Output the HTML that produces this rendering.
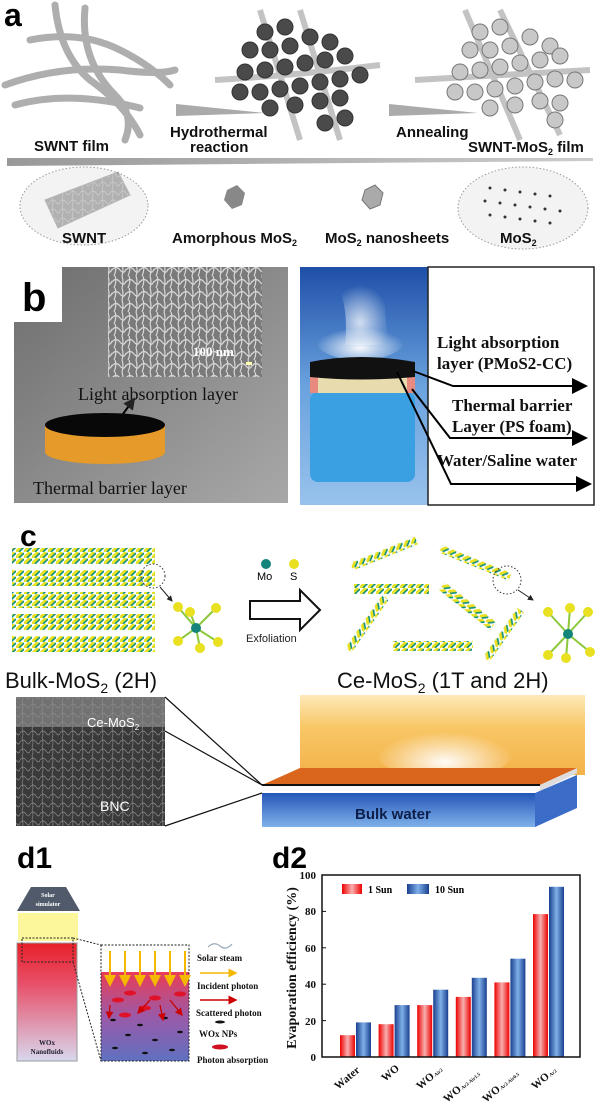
<!DOCTYPE html>
<html><head><meta charset="utf-8"><style>
html,body{margin:0;padding:0;background:#fff}
svg{display:block}
</style></head><body>
<svg width="600" height="1103" viewBox="0 0 600 1103" xmlns="http://www.w3.org/2000/svg">
<defs>
<linearGradient id="bar" x1="0" x2="1"><stop offset="0" stop-color="#e00"/><stop offset="0.5" stop-color="#f7b0b0"/><stop offset="1" stop-color="#e00"/></linearGradient>
<linearGradient id="bbar" x1="0" x2="1"><stop offset="0" stop-color="#1a3f8f"/><stop offset="0.5" stop-color="#7fb0e8"/><stop offset="1" stop-color="#1a3f8f"/></linearGradient>
<linearGradient id="tube" x1="0" y1="0" x2="0" y2="1"><stop offset="0" stop-color="#e8202a"/><stop offset="0.35" stop-color="#e8506a"/><stop offset="1" stop-color="#d8d8ee"/></linearGradient>
<linearGradient id="inset" x1="0" y1="0" x2="0" y2="1"><stop offset="0" stop-color="#ea3c55"/><stop offset="0.5" stop-color="#9a5aa8"/><stop offset="1" stop-color="#6070c0"/></linearGradient>
<linearGradient id="glow" x1="0" y1="0" x2="0" y2="1"><stop offset="0" stop-color="#fde9b8"/><stop offset="0.4" stop-color="#f8c766"/><stop offset="1" stop-color="#f4b24a"/></linearGradient>
<linearGradient id="water" x1="0" y1="0" x2="0" y2="1"><stop offset="0" stop-color="#2456b8"/><stop offset="1" stop-color="#7fb2ea"/></linearGradient>
<linearGradient id="jarbg" x1="0" y1="0" x2="0" y2="1"><stop offset="0" stop-color="#1e4fa8"/><stop offset="0.5" stop-color="#6aa2de"/><stop offset="1" stop-color="#98c2ec"/></linearGradient>
<linearGradient id="gray" x1="0" y1="0" x2="1" y2="1"><stop offset="0" stop-color="#6e6e6e"/><stop offset="1" stop-color="#a8a8a8"/></linearGradient>
<linearGradient id="hbar" x1="0" x2="1"><stop offset="0" stop-color="#999"/><stop offset="1" stop-color="#ccc"/></linearGradient>
<radialGradient id="steam" cx="0.5" cy="0.7" r="0.5"><stop offset="0" stop-color="#fff" stop-opacity="0.95"/><stop offset="1" stop-color="#fff" stop-opacity="0"/></radialGradient>
<pattern id="sem" width="14" height="12" patternUnits="userSpaceOnUse"><rect width="14" height="12" fill="#7a7a7a"/><path d="M0 6 Q4 1 8 6 T14 5 M3 0 Q5 5 2 12 M10 0 Q12 6 10 12" stroke="#d8d8d8" stroke-width="1.2" fill="none"/></pattern>
<pattern id="sem2" width="10" height="9" patternUnits="userSpaceOnUse"><rect width="10" height="9" fill="#3a3a3a"/><path d="M0 4 Q3 0 6 4 T10 4 M2 0 Q4 5 2 9" stroke="#8a8a8a" stroke-width="0.7" fill="none"/></pattern>
<pattern id="mos" width="8" height="6" patternUnits="userSpaceOnUse"><rect width="8" height="6" fill="none"/><path d="M0 6 L6 0" stroke="#e8e020" stroke-width="3"/><path d="M3 6 L8 1" stroke="#12907a" stroke-width="1.6"/></pattern>
<marker id="ah" markerWidth="8" markerHeight="8" refX="7" refY="4" orient="auto"><path d="M0 0 L8 4 L0 8 Z" fill="#000"/></marker>
<marker id="ahs" markerWidth="6" markerHeight="6" refX="5" refY="3" orient="auto"><path d="M0 0 L6 3 L0 6 Z" fill="#222"/></marker>
<marker id="ahy" markerWidth="6" markerHeight="6" refX="5" refY="3" orient="auto"><path d="M0 0 L6 3 L0 6 Z" fill="#f5b800"/></marker>
<marker id="ahr" markerWidth="6" markerHeight="6" refX="5" refY="3" orient="auto"><path d="M0 0 L6 3 L0 6 Z" fill="#c00"/></marker>
</defs>

<!-- ===== Panel a ===== -->
<g fill="none" stroke="#9a9a9a" stroke-width="7" stroke-linecap="round" opacity="0.8">
<path d="M55 5 Q60 55 90 80 Q125 105 140 135"/>
<path d="M85 8 Q80 60 115 95 Q135 115 125 140"/>
<path d="M5 85 Q60 65 120 70 Q160 75 175 70"/>
<path d="M15 105 Q70 90 140 108"/>
<path d="M30 40 Q80 30 120 50 Q150 65 170 85"/>
</g>
<g fill="none" stroke="#aaa" stroke-width="6" opacity="0.7">
<path d="M215 80 Q300 75 380 65"/><path d="M260 10 L300 140"/><path d="M300 10 L340 140"/>
<path d="M415 80 Q500 75 590 70"/><path d="M465 10 L520 140"/><path d="M500 10 L560 135"/>
</g>
<g fill="#4a4a4a" stroke="#333" stroke-width="1">
<circle cx="265" cy="32" r="8"/><circle cx="285" cy="27" r="8"/><circle cx="250" cy="50" r="8"/><circle cx="270" cy="50" r="8"/><circle cx="290" cy="46" r="8"/><circle cx="310" cy="37" r="8"/><circle cx="330" cy="42" r="8"/>
<circle cx="245" cy="72" r="8"/><circle cx="265" cy="70" r="8"/><circle cx="285" cy="67" r="8"/><circle cx="305" cy="63" r="8"/><circle cx="325" cy="60" r="8"/><circle cx="345" cy="56" r="8"/><circle cx="360" cy="75" r="8"/>
<circle cx="240" cy="92" r="8"/><circle cx="260" cy="92" r="8"/><circle cx="280" cy="89" r="8"/><circle cx="300" cy="86" r="8"/><circle cx="320" cy="82" r="8"/><circle cx="340" cy="79" r="8"/>
<circle cx="270" cy="108" r="8"/><circle cx="295" cy="105" r="8"/><circle cx="320" cy="101" r="8"/><circle cx="340" cy="98" r="8"/><circle cx="345" cy="118" r="8"/><circle cx="325" cy="123" r="8"/>
</g>
<g fill="#c8c8c8" stroke="#777" stroke-width="1">
<circle cx="480" cy="32" r="8"/><circle cx="500" cy="27" r="8"/><circle cx="470" cy="50" r="8"/><circle cx="490" cy="50" r="8"/><circle cx="510" cy="46" r="8"/><circle cx="530" cy="37" r="8"/><circle cx="550" cy="46" r="8"/>
<circle cx="460" cy="72" r="8"/><circle cx="480" cy="70" r="8"/><circle cx="500" cy="67" r="8"/><circle cx="520" cy="63" r="8"/><circle cx="540" cy="60" r="8"/><circle cx="560" cy="56" r="8"/><circle cx="575" cy="80" r="8"/>
<circle cx="455" cy="92" r="8"/><circle cx="475" cy="92" r="8"/><circle cx="495" cy="89" r="8"/><circle cx="515" cy="86" r="8"/><circle cx="535" cy="82" r="8"/><circle cx="555" cy="79" r="8"/>
<circle cx="490" cy="108" r="8"/><circle cx="515" cy="105" r="8"/><circle cx="540" cy="101" r="8"/><circle cx="560" cy="103" r="8"/><circle cx="555" cy="120" r="8"/>
</g>
<text x="4" y="26" font-family="Liberation Sans" font-weight="bold" font-size="32">a</text>
<polygon points="176,104 265,113 176,116" fill="#aaa"/>
<polygon points="389,104 478,113 389,116" fill="#aaa"/>
<g font-family="Liberation Sans" font-weight="bold" font-size="15" fill="#111">
<text x="34" y="151">SWNT film</text>
<text x="170" y="137">Hydrothermal</text><text x="190" y="152">reaction</text>
<text x="396" y="137">Annealing</text>
<text x="468" y="152">SWNT-MoS<tspan font-size="9" dy="3">2</tspan><tspan dy="-3"> film</tspan></text>
</g>
<polygon points="7,158 593,158 593,161 7,166" fill="url(#hbar)"/>
<ellipse cx="84" cy="206" rx="64" ry="39" fill="#f3f3f3" stroke="#999" stroke-dasharray="1.5,2"/>
<ellipse cx="523" cy="208" rx="65" ry="41" fill="#f3f3f3" stroke="#999" stroke-dasharray="1.5,2"/>
<path d="M45 200 L118 172 L130 195 L58 228 Z" fill="url(#sem2)" opacity="0.35" stroke="#444"/>
<g fill="#333"><circle cx="490" cy="188" r="1.5"/><circle cx="505" cy="190" r="1.5"/><circle cx="520" cy="192" r="1.5"/><circle cx="535" cy="194" r="1.5"/><circle cx="550" cy="196" r="1.5"/>
<circle cx="485" cy="201" r="1.5"/><circle cx="500" cy="203" r="1.5"/><circle cx="515" cy="205" r="1.5"/><circle cx="530" cy="207" r="1.5"/><circle cx="545" cy="209" r="1.5"/><circle cx="560" cy="211" r="1.5"/>
<circle cx="490" cy="215" r="1.5"/><circle cx="505" cy="217" r="1.5"/><circle cx="520" cy="219" r="1.5"/><circle cx="535" cy="221" r="1.5"/><circle cx="550" cy="223" r="1.5"/></g>
<polygon points="227,190 237,185 245,193 242,205 232,209 224,200" fill="#888"/>
<polygon points="365,190 375,185 383,193 380,205 370,209 362,200" fill="#aaa" stroke="#777"/>
<g font-family="Liberation Sans" font-weight="bold" font-size="15" fill="#111">
<text x="62" y="243">SWNT</text>
<text x="172" y="243">Amorphous MoS<tspan font-size="9" dy="3">2</tspan></text>
<text x="325" y="243">MoS<tspan font-size="9" dy="3">2</tspan><tspan dy="-3"> nanosheets</tspan></text>
<text x="500" y="243">MoS<tspan font-size="9" dy="3">2</tspan></text>
</g>

<!-- ===== Panel b ===== -->
<rect x="14" y="267" width="274" height="236" fill="url(#gray)"/>
<rect x="14" y="267" width="48" height="55" fill="#fff"/>
<text x="22" y="311" font-family="Liberation Sans" font-weight="bold" font-size="40">b</text>
<rect x="108" y="267" width="154" height="110" fill="url(#sem)"/>
<text x="193" y="356" font-family="Liberation Serif" font-weight="bold" font-size="13" fill="#fff">100 nm</text>
<rect x="246" y="362" width="6" height="3" fill="#ffffb0"/>
<text x="78" y="400" font-family="Liberation Serif" font-size="18" fill="#111">Light  absorption layer</text>
<line x1="120" y1="418" x2="134" y2="399" stroke="#000" stroke-width="2" marker-end="url(#ahs)"/>
<path d="M45 425 L45 452 A60 12 0 0 0 165 452 L165 425 Z" fill="#e59a2a"/>
<ellipse cx="105" cy="425" rx="60" ry="12" fill="#080808"/>
<text x="33" y="494" font-family="Liberation Serif" font-size="18" fill="#111">Thermal barrier layer</text>

<rect x="300" y="267" width="128" height="238" fill="url(#jarbg)"/>
<path d="M330 270 Q350 300 345 345 L390 345 Q380 300 390 270 Z" fill="url(#steam)" opacity="0.8"/>
<ellipse cx="360" cy="340" rx="45" ry="20" fill="url(#steam)"/>
<rect x="310" y="392" width="105" height="90" rx="8" fill="#3aa0e2"/>
<rect x="310" y="375" width="105" height="18" fill="#e8dcae"/>
<rect x="310" y="375" width="8" height="18" fill="#e88a80"/><rect x="407" y="375" width="8" height="18" fill="#e88a80"/>
<path d="M310 362 Q360 352 415 362 L415 377 Q360 382 310 377 Z" fill="#111"/>
<rect x="428" y="267" width="166" height="238" fill="#fff" stroke="#222" stroke-width="1.5"/>
<g font-family="Liberation Serif" font-weight="bold" font-size="17" fill="#111">
<text x="437" y="348">Light absorption</text>
<text x="437" y="369">layer (PMoS2-CC)</text>
<text x="452" y="411">Thermal barrier</text>
<text x="452" y="432">Layer (PS foam)</text>
<text x="437" y="466">Water/Saline water</text>
</g>
<g stroke="#000" stroke-width="2" fill="none">
<polyline points="413,371 453,386 586,386" marker-end="url(#ah)"/>
<polyline points="412,389 450,438 586,438" marker-end="url(#ah)"/>
<polyline points="397,372 451,484 590,484" marker-end="url(#ah)"/>
</g>

<!-- ===== Panel c ===== -->
<text x="20" y="546" font-family="Liberation Sans" font-weight="bold" font-size="30">c</text>
<g>
<rect x="12" y="548" width="143" height="16" fill="url(#mos)"/>
<rect x="12" y="570" width="143" height="16" fill="url(#mos)"/>
<rect x="12" y="592" width="143" height="16" fill="url(#mos)"/>
<rect x="12" y="614" width="143" height="16" fill="url(#mos)"/>
<rect x="12" y="636" width="143" height="16" fill="url(#mos)"/>
</g>
<circle cx="153" cy="576" r="12" fill="none" stroke="#333" stroke-dasharray="1.5,2"/>
<line x1="160" y1="587" x2="172" y2="601" stroke="#222" marker-end="url(#ahs)"/>
<g stroke="#8cc83a" stroke-width="2"><line x1="196" y1="628" x2="178" y2="607"/><line x1="196" y1="628" x2="216" y2="608"/><line x1="196" y1="628" x2="190" y2="612"/><line x1="196" y1="628" x2="178" y2="641"/><line x1="196" y1="628" x2="218" y2="642"/><line x1="196" y1="628" x2="200" y2="648"/></g>
<g fill="#e8e020"><circle cx="178" cy="607" r="5"/><circle cx="216" cy="608" r="5"/><circle cx="190" cy="612" r="5"/><circle cx="178" cy="641" r="5"/><circle cx="218" cy="642" r="5"/><circle cx="200" cy="648" r="5"/></g>
<circle cx="196" cy="628" r="5" fill="#13857a"/>
<circle cx="266" cy="564" r="5" fill="#13857a"/><circle cx="294" cy="564" r="5" fill="#e8e020"/>
<text x="257" y="580" font-family="Liberation Sans" font-size="11">Mo</text><text x="290" y="580" font-family="Liberation Sans" font-size="11">S</text>
<path d="M250 601 L300 601 L300 590 L320 610 L300 630 L300 619 L250 619 Z" fill="#fff" stroke="#111" stroke-width="2"/>
<text x="246" y="642" font-family="Liberation Sans" font-size="11" fill="#222">Exfoliation</text>
<g>
<rect x="0" y="0" width="70" height="8" fill="url(#mos)" transform="translate(350,563) rotate(-22)"/>
<rect x="0" y="0" width="75" height="8" fill="url(#mos)" transform="translate(442,545) rotate(22)"/>
<rect x="354" y="584" width="75" height="10" fill="url(#mos)"/>
<rect x="0" y="0" width="65" height="10" fill="url(#mos)" transform="translate(445,582) rotate(38)"/>
<rect x="0" y="0" width="65" height="8" fill="url(#mos)" transform="translate(345,648) rotate(-55)"/>
<rect x="393" y="641" width="80" height="10" fill="url(#mos)"/>
<rect x="0" y="0" width="60" height="8" fill="url(#mos)" transform="translate(483,657) rotate(-55)"/>
</g>
<circle cx="507" cy="580" r="14" fill="none" stroke="#333" stroke-dasharray="1.5,2"/>
<line x1="518" y1="590" x2="533" y2="600" stroke="#222" marker-end="url(#ahs)"/>
<g stroke="#8cc83a" stroke-width="2"><line x1="568" y1="634" x2="548" y2="612"/><line x1="568" y1="634" x2="570" y2="608"/><line x1="568" y1="634" x2="588" y2="612"/><line x1="568" y1="634" x2="548" y2="655"/><line x1="568" y1="634" x2="566" y2="658"/><line x1="568" y1="634" x2="590" y2="652"/></g>
<g fill="#e8e020"><circle cx="548" cy="612" r="5"/><circle cx="570" cy="608" r="5"/><circle cx="588" cy="612" r="5"/><circle cx="548" cy="655" r="5"/><circle cx="566" cy="658" r="5"/><circle cx="590" cy="652" r="5"/></g>
<circle cx="568" cy="634" r="5" fill="#13857a"/>
<text x="5" y="688" font-family="Liberation Sans" font-size="22" fill="#111">Bulk-MoS<tspan font-size="14" dy="5">2</tspan><tspan dy="-5"> (2H)</tspan></text>
<text x="337" y="688" font-family="Liberation Sans" font-size="22" fill="#111">Ce-MoS<tspan font-size="14" dy="5">2</tspan><tspan dy="-5"> (1T and 2H)</tspan></text>
<rect x="16" y="697" width="149" height="129" fill="url(#sem2)"/>
<rect x="16" y="697" width="149" height="30" fill="#8a8a8a" opacity="0.7"/>
<text x="87" y="727" font-family="Liberation Sans" font-size="13" fill="#fff">Ce-MoS<tspan font-size="8" dy="3">2</tspan></text>
<text x="100" y="811" font-family="Liberation Sans" font-size="14" fill="#fff">BNC</text>
<g stroke="#111" stroke-width="1.2"><line x1="165" y1="697" x2="262" y2="785"/><line x1="165" y1="731" x2="262" y2="785"/><line x1="165" y1="826" x2="262" y2="793"/></g>
<rect x="300" y="695" width="285" height="80" fill="url(#glow)"/>
<ellipse cx="445" cy="750" rx="70" ry="30" fill="url(#steam)"/>
<polygon points="262,785 300,768 577,768 540,785" fill="#d9661c"/>
<line x1="262" y1="785" x2="540" y2="785" stroke="#111" stroke-width="2"/>
<polygon points="540,785 577,768 577,773 540,791" fill="#ddd"/>
<rect x="262" y="786" width="278" height="5" fill="#fafafa"/>
<rect x="262" y="793" width="273" height="34" fill="url(#water)"/>
<polygon points="535,793 577,775 577,808 535,827" fill="#3a6cc8"/>
<text x="355" y="819" font-family="Liberation Sans" font-weight="bold" font-size="15" fill="#0e1e4a">Bulk water</text>

<!-- ===== Panel d1 ===== -->
<text x="17" y="868" font-family="Liberation Sans" font-weight="bold" font-size="30">d1</text>
<polygon points="31,887 66,887 80,911 17,911" fill="#505a6a"/>
<text x="48" y="897" font-family="Liberation Serif" font-weight="bold" font-size="6" fill="#fff" text-anchor="middle">Solar</text>
<text x="48" y="906" font-family="Liberation Serif" font-weight="bold" font-size="6" fill="#fff" text-anchor="middle">simulator</text>
<rect x="18" y="913" width="60" height="28" fill="#fbf79a"/>
<rect x="17" y="943" width="60" height="118" fill="url(#tube)" stroke="#999"/>
<rect x="22" y="938" width="51" height="24" fill="none" stroke="#222" stroke-dasharray="2,1.5"/>
<text x="47" y="1045" font-family="Liberation Serif" font-weight="bold" font-size="7" fill="#223" text-anchor="middle">WOx</text>
<text x="47" y="1054" font-family="Liberation Serif" font-weight="bold" font-size="7" fill="#223" text-anchor="middle">Nanofluids</text>
<line x1="73" y1="938" x2="101" y2="945" stroke="#222" stroke-dasharray="2,1.5"/>
<line x1="73" y1="962" x2="101" y2="1061" stroke="#222" stroke-dasharray="2,1.5"/>
<rect x="101" y="972" width="88" height="89" fill="url(#inset)"/>
<rect x="101" y="945" width="88" height="116" fill="none" stroke="#222" stroke-dasharray="2,1.5"/>
<g stroke="#f5b800" stroke-width="2"><line x1="110" y1="951" x2="110" y2="985" marker-end="url(#ahy)"/><line x1="125" y1="951" x2="125" y2="985" marker-end="url(#ahy)"/><line x1="140" y1="951" x2="140" y2="985" marker-end="url(#ahy)"/><line x1="155" y1="951" x2="155" y2="985" marker-end="url(#ahy)"/><line x1="170" y1="951" x2="170" y2="985" marker-end="url(#ahy)"/><line x1="185" y1="951" x2="185" y2="985" marker-end="url(#ahy)"/></g>
<g fill="#e0122a"><ellipse cx="118" cy="1000" rx="6" ry="2.5"/><ellipse cx="130" cy="993" rx="6" ry="2.5"/><ellipse cx="155" cy="998" rx="6" ry="2.5"/><ellipse cx="180" cy="994" rx="6" ry="2.5"/><ellipse cx="125" cy="1015" rx="6" ry="2.5"/><ellipse cx="145" cy="1008" rx="6" ry="2.5"/></g>
<g fill="#111"><ellipse cx="113" cy="1020" rx="3" ry="1.2"/><ellipse cx="140" cy="1025" rx="3" ry="1.2"/><ellipse cx="165" cy="1018" rx="3" ry="1.2"/><ellipse cx="128" cy="1035" rx="3" ry="1.2"/><ellipse cx="155" cy="1040" rx="3" ry="1.2"/><ellipse cx="180" cy="1032" rx="3" ry="1.2"/><ellipse cx="115" cy="1048" rx="3" ry="1.2"/><ellipse cx="145" cy="1053" rx="3" ry="1.2"/><ellipse cx="172" cy="1050" rx="3" ry="1.2"/></g>
<g stroke="#c00" stroke-width="1.3"><line x1="110" y1="1005" x2="109" y2="1018" marker-end="url(#ahr)"/><line x1="150" y1="1000" x2="138" y2="1013" marker-end="url(#ahr)"/><line x1="160" y1="1005" x2="163" y2="1020" marker-end="url(#ahr)"/><line x1="170" y1="1000" x2="182" y2="1015" marker-end="url(#ahr)"/></g>
<path d="M208 947 Q214 941 220 946 T232 944" stroke="#9ab" fill="none" stroke-width="1.2"/>
<line x1="200" y1="973" x2="236" y2="973" stroke="#f5b800" stroke-width="1.5" marker-end="url(#ahy)"/>
<line x1="200" y1="1000" x2="236" y2="1000" stroke="#c00" stroke-width="1.5" marker-end="url(#ahr)"/>
<ellipse cx="220" cy="1022" rx="5" ry="1.5" fill="#111"/>
<ellipse cx="220" cy="1047" rx="8" ry="2.5" fill="#d01020"/>
<g font-family="Liberation Serif" font-weight="bold" font-size="9" fill="#111">
<text x="197" y="961">Solar steam</text>
<text x="197" y="989">Incident photon</text>
<text x="196" y="1016">Scattered photon</text>
<text x="199" y="1037">WOx NPs</text>
<text x="197" y="1063">Photon absorption</text>
</g>

<!-- ===== Panel d2 ===== -->
<text x="272" y="868" font-family="Liberation Sans" font-weight="bold" font-size="30">d2</text>
<text transform="translate(296,968) rotate(-90)" font-family="Liberation Serif" font-weight="bold" font-size="14" text-anchor="middle" fill="#111">Evaporation efficiency (%)</text>
<g font-family="Liberation Serif" font-weight="bold" font-size="11" text-anchor="end" fill="#111">
<text x="316" y="1061">0</text><text x="316" y="1025">20</text><text x="316" y="988">40</text><text x="316" y="952">60</text><text x="316" y="915">80</text><text x="316" y="879">100</text>
</g>
<g>
<rect x="340" y="1035.2" width="15" height="21.8" fill="url(#bar)"/><rect x="356" y="1022.4" width="15" height="34.6" fill="url(#bbar)"/>
<rect x="378.6" y="1024.2" width="15" height="32.8" fill="url(#bar)"/><rect x="394.6" y="1005.1" width="15" height="51.9" fill="url(#bbar)"/>
<rect x="417.2" y="1005.1" width="15" height="51.9" fill="url(#bar)"/><rect x="433.2" y="989.7" width="15" height="67.3" fill="url(#bbar)"/>
<rect x="455.8" y="996.9" width="15" height="60.1" fill="url(#bar)"/><rect x="471.8" y="977.8" width="15" height="79.2" fill="url(#bbar)"/>
<rect x="494.4" y="982.4" width="15" height="74.6" fill="url(#bar)"/><rect x="510.4" y="958.7" width="15" height="98.3" fill="url(#bbar)"/>
<rect x="533" y="914.1" width="15" height="142.9" fill="url(#bar)"/><rect x="549" y="886.8" width="15" height="170.2" fill="url(#bbar)"/>
</g>
<rect x="322" y="875" width="258" height="182" fill="none" stroke="#111" stroke-width="1.5"/>
<g stroke="#111"><line x1="322" y1="1020.6" x2="326" y2="1020.6"/><line x1="322" y1="984.2" x2="326" y2="984.2"/><line x1="322" y1="947.8" x2="326" y2="947.8"/><line x1="322" y1="911.4" x2="326" y2="911.4"/></g>
<rect x="342" y="884" width="20" height="10" fill="url(#bar)"/>
<text x="368" y="893" font-family="Liberation Serif" font-weight="bold" font-size="10">1 Sun</text>
<rect x="407" y="884" width="22" height="10" fill="url(#bbar)"/>
<text x="435" y="893" font-family="Liberation Serif" font-weight="bold" font-size="10">10 Sun</text>
<g font-family="Liberation Serif" font-weight="bold" font-size="11" fill="#111">
<text transform="translate(338,1090) rotate(-40)">Water</text>
<text transform="translate(385,1082) rotate(-40)">WO</text>
<text transform="translate(420,1090) rotate(-40)">WO<tspan font-size="5"> Air2</tspan></text>
<text transform="translate(447,1103) rotate(-40)">WO<tspan font-size="5"> Ar2-Air1.5</tspan></text>
<text transform="translate(486,1103) rotate(-40)">WO<tspan font-size="5"> Ar2-Air0.5</tspan></text>
<text transform="translate(535,1090) rotate(-40)">WO<tspan font-size="5"> Ar2</tspan></text>
</g>
</svg>
</body></html>
